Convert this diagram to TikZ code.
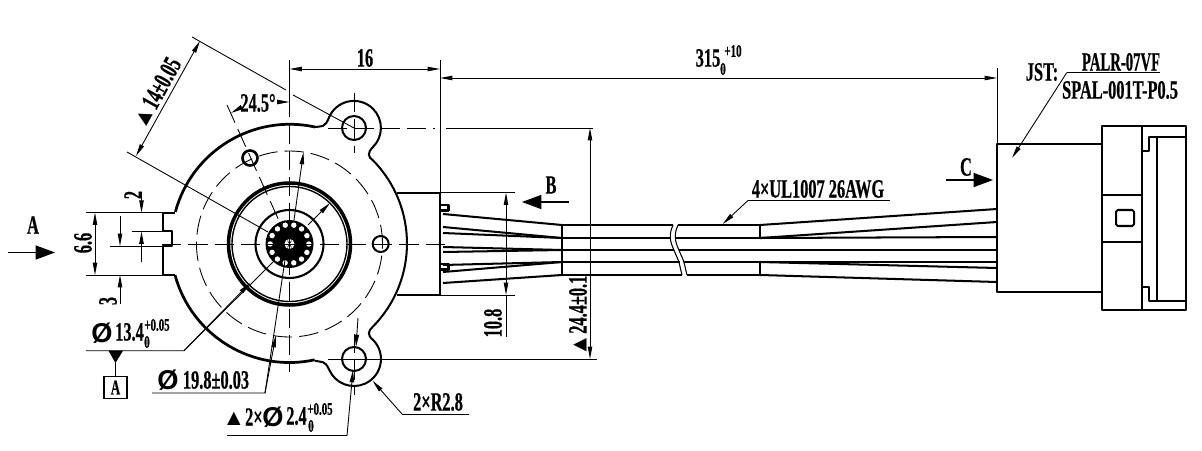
\documentclass[tikz,border=0pt]{standalone}
\usepackage{fontspec}
\usepackage{tikz}
\usetikzlibrary{arrows.meta}
\newfontfamily\dimfont[FakeStretch=0.62,BoldFeatures={FakeBold=0.5}]{Liberation Serif}
\newfontfamily\plainfont{Liberation Sans}
\newcommand{\dimtri}{{\plainfont\fontsize{13}{13}\selectfont ▲}}
\newcommand{\dimdia}{{\plainfont\bfseries\fontsize{15.5}{15.5}\selectfont Ø}}
\tikzset{
  lbl/.style = {font = \dimfont\bfseries\fontsize{15}{15}\selectfont, inner sep = 0pt},
  smalllbl/.style = {font = \dimfont\bfseries\fontsize{10}{10}\selectfont, inner sep = 0pt},
  outl/.style = {line width = 1.15pt, line join = round},
  outlheavy/.style = {line width = 1.55pt, line join = round},
  dimln/.style = {line width = .5pt},
  cenln/.style = {line width = .5pt, dash pattern = on 11pt off 4pt},
  viewarr/.style = {line width = .6pt, -{Triangle[length = 11pt, width = 8pt]}}
}
\begin{document}
\begin{tikzpicture}[x = .02cm, y = .02cm, >={Triangle[length = 7pt, width = 2.5pt]}]
	\useasboundingbox (0,0) rectangle (1202,450);
	\coordinate (cen) at (289.5,206);
	\coordinate (earT) at (354,322);
	\coordinate (earB) at (354,91);

	\draw[outlheavy] (175,175) arc[start angle = 195.15, end angle = 282.3, radius = 118.5];
	\draw[outlheavy] (315,323) arc[start angle = 77.7, end angle = 164.85, radius = 118.5];
	\draw[outl] (315,89.2) .. controls (322,87.5) and (325,90) .. (329.3,80) arc[start angle = 204, end angle = 405, radius = 27]
		.. controls (367,115) and (368,119) .. (373,123.5) arc[start angle = -44.5, end angle = 44.5, radius = 118.5]
		.. controls (368,293) and (367,297) .. (373,303) arc[start angle = -45, end angle = 156, radius = 27]
		.. controls (325,322) and (322,324) .. (315,323);
	\draw[outl] (175,237.3) -- (163,237.3) -- (163,219) -- (172,219) -- (172,204) -- (163,204) -- (163,175) -- (175,175);

	\draw[outl] (earT) circle (12);
	\draw[outl] (earB) circle (12);
	\draw[outl] (380.7,206) circle (8);
	\draw[line width = 1.5pt] (250,292) circle (7.5);

	\draw[line width = 2pt] (cen) circle (61);
	\draw[line width = .8pt] (cen) circle (57.5);
	\draw[line width = 1.2pt] (cen) circle (34);
	\fill (cen) circle (24);
	\foreach \a in {0,25.7,...,340}
		\fill[white] (cen) ++(\a:19.3) circle (2.7);
	\fill[white] (cen) circle (5);
	\foreach \a in {0,60,...,300}
		\draw[line width = .3pt] (cen) -- ++(\a:4);

	\draw[cenln] (cen) circle (93);
	\draw[cenln] (162,206) -- (445,206);
	\draw[cenln] (289.5,352) -- (289.5,78);
	\draw[cenln] (227,345) -- (280,227);
	\draw[cenln] (354,357) -- (354,297);
	\draw[cenln] (354,116) -- (354,55);
	\draw[cenln] (328,322) -- (435,322);
	\draw[dimln] (446,322) -- (593,322);
	\draw[dimln] (328,91) -- (597,91);

	\draw[dimln] (192,413) -- (286,360);
	\draw[dimln] (293,355) -- (354,322);
	\draw[dimln] (127,298) -- (268,218);
	\draw[dimln, <->] (200,409) -- (136,294);
	\node[lbl, rotate = 61] (lbl14) at (156,357) {\dimtri 14±0.05};

	\draw[dimln] (289.5,390) -- (289.5,352);
	\draw[dimln] (440,390) -- (440,155);
	\draw[dimln, <->] (289.5,381) -- (440,381);
	\node[lbl] (lbl16) at (365,392) {16};

	\draw[dimln] (997,382) -- (997,305);
	\draw[dimln, <->] (440,372) -- (997,372);
	\node[lbl] (lbl315) at (708,392) {315};
	\node[smalllbl] (lbl315up) at (733,399) {+10};
	\node[smalllbl] (lbl315dn) at (723,381) {0};

	\draw[dimln, ->] (277,348) -- (289.5,348);
	\draw[dimln, ->] (242,343) -- (231,337);
	\node[lbl] (lblang) at (258,347) {24.5°};

	\draw[dimln] (86,237.3) -- (163,237.3);
	\draw[dimln] (86,175) -- (163,175);
	\draw[dimln] (110,204) -- (163,204);
	\draw[dimln] (132,218.5) -- (163,218.5);
	\draw[dimln, <->] (95,237.3) -- (95,175);
	\node[lbl, rotate = 90] (lbl66) at (83,207) {6.6};
	\draw[dimln, ->] (120,234) -- (120,204);
	\draw[dimln, ->] (120,146) -- (120,175);
	\node[lbl, rotate = 90] (lbl3) at (108,149) {3};
	\draw[dimln, ->] (141.5,258) -- (141.5,237.3);
	\draw[dimln, ->] (141.5,188) -- (141.5,218.5);
	\node[lbl, rotate = 90] (lbl2) at (133,255) {2};

	\draw[viewarr] (8,197.5) -- (55,197.5);
	\node[lbl] (lblA) at (33,225) {A};
	\draw[viewarr] (569,248) -- (522,248);
	\node[lbl] (lblB) at (551,265) {B};
	\draw[viewarr] (946,270) -- (993,270);
	\node[lbl] (lblC) at (966,283) {C};

	\draw[dimln] (86,99.3) -- (184,99.3) -- (273,188);
	\draw[dimln, ->] (184,99.3) -- (250,167);
	\draw[dimln, ->] (308,225) -- (330,247);
	\node[lbl] (diaA) at (102,117) {\dimdia};
	\node[lbl] (lbl134) at (129.5,118) {13.4};
	\node[smalllbl] (lbl134up) at (157,125) {+0.05};
	\node[smalllbl] (lbl134dn) at (147,108) {0};
	\fill (108.5,99.3) -- (123,99.3) -- (115.5,87) -- cycle;
	\draw[dimln] (115.5,87) -- (115.5,74);
	\node[draw, line width = .6pt, inner sep = 0pt, minimum height = .44cm, minimum width = .46cm,
		font = \dimfont\bfseries\fontsize{12}{12}\selectfont] (datum) at (115.5,62.5) {A};

	\draw[dimln] (152,57) -- (265,57) -- (285,190);
	\draw[dimln, ->] (265,57) -- (276,115);
	\draw[dimln, ->] (294,230) -- (303.5,298);
	\node[lbl] (diaB) at (168,70) {\dimdia};
	\node[lbl] (lbl198) at (216,70) {19.8±0.03};

	\draw[dimln] (227,14.3) -- (347,14.3);
	\draw[dimln, ->] (347,14.3) -- (353,80);
	\draw[dimln, ->] (358,132) -- (356,103);
	\node[lbl, anchor = east] (lbl2x) at (263,33) {\dimtri 2×};
	\node[lbl] (diaC) at (273,33) {\dimdia};
	\node[lbl] (lbl24) at (296.5,34) {2.4};
	\node[smalllbl] (lbl24up) at (320,41) {+0.05};
	\node[smalllbl] (lbl24dn) at (311,24) {0};

	\draw[dimln] (469,36) -- (402,36);
	\draw[dimln, ->] (402,36) -- (372.5,69.3);
	\node[lbl] (lblR) at (438,48) {2×R2.8};

	\draw[outl] (397,257.3) -- (440,257.3) -- (440,155) -- (397,155);
	\draw[outl] (440,245) rectangle (448.5,239.5);
	\draw[outl] (440,186) rectangle (448.5,180.5);
	\draw[dimln] (440,257.3) -- (515,257.3);
	\draw[dimln] (440,155) -- (515,155);
	\draw[dimln, <->] (506,257.3) -- (506,155);
	\draw[dimln] (506,155) -- (506,113);
	\node[lbl, rotate = 90] (lbl108) at (493,127) {10.8};
	\draw[dimln, <->] (590,322) -- (590,91);
	\node[lbl, rotate = 90] (lbl244) at (578,134) {\dimtri 24.4±0.1};

	\foreach \ya/\yb in {236/225, 223/212, 217/212, 203/200, 198/200, 185/188, 178/188, 167/175}
		\draw[outl] (443,\ya) -- (562,\yb);
	\draw[outl] (562,225) -- (562,175);
	\foreach \yb/\xa/\xb in {225/673/678, 212/671/675, 200/674/679, 188/680/684, 175/682/687} {
		\draw[outl] (562,\yb) -- (\xa,\yb);
		\draw[outl] (\xb,\yb) -- (760,\yb);
	}
	\draw[line width = .6pt] (673,225) .. controls (667,212) and (672,205) .. (676,195) .. controls (680,187) and (680,182) .. (682,175);
	\draw[line width = .6pt] (678,225) .. controls (672,212) and (677,205) .. (681,195) .. controls (685,187) and (685,182) .. (687,175);
	\draw[outl] (760,225) -- (760,213);
	\draw[outl] (760,188) -- (760,175);
	\foreach \ya/\yb in {225/241, 212/228, 212/213, 200/200, 188/188, 188/182, 175/168}
		\draw[outl] (760,\ya) -- (997,\yb);

	\draw[dimln] (748,249.5) -- (890,249.5);
	\draw[dimln, ->] (748,249.5) -- (722.7,226);
	\node[lbl] (lblwire) at (818,261) {4×UL1007 26AWG};

	\draw[outl] (1101.7,306) -- (997,306) -- (997,158) -- (1101.7,158);
	\draw[outl] (1101.7,140) rectangle (1186,324);
	\draw[outl] (1142,140) -- (1142,324);
	\draw[outl] (1101.7,255) -- (1142,255);
	\draw[outl] (1101.7,208) -- (1142,208);
	\draw[outl, rounded corners = 1pt] (1116,224) rectangle (1134,240);
	\draw[outl] (1157,149.3) -- (1157,313);
	\draw[outl] (1142,299.3) -- (1149,299.3) -- (1149,313) -- (1186,313);
	\draw[outl] (1142,163.3) -- (1149,163.3) -- (1149,149.3) -- (1186,149.3);

	\draw[dimln] (1160,377.3) -- (1066.7,377.3);
	\draw[dimln, ->] (1066.7,377.3) -- (1012,292);
	\node[lbl] (lbljst) at (1042,378) {JST:};
	\node[lbl] (lblpalr) at (1121,388) {\scalebox{.9}[1]{PALR-07VF}};
	\node[lbl] (lblspal) at (1120,360) {SPAL-001T-P0.5};
\end{tikzpicture}
\end{document}
